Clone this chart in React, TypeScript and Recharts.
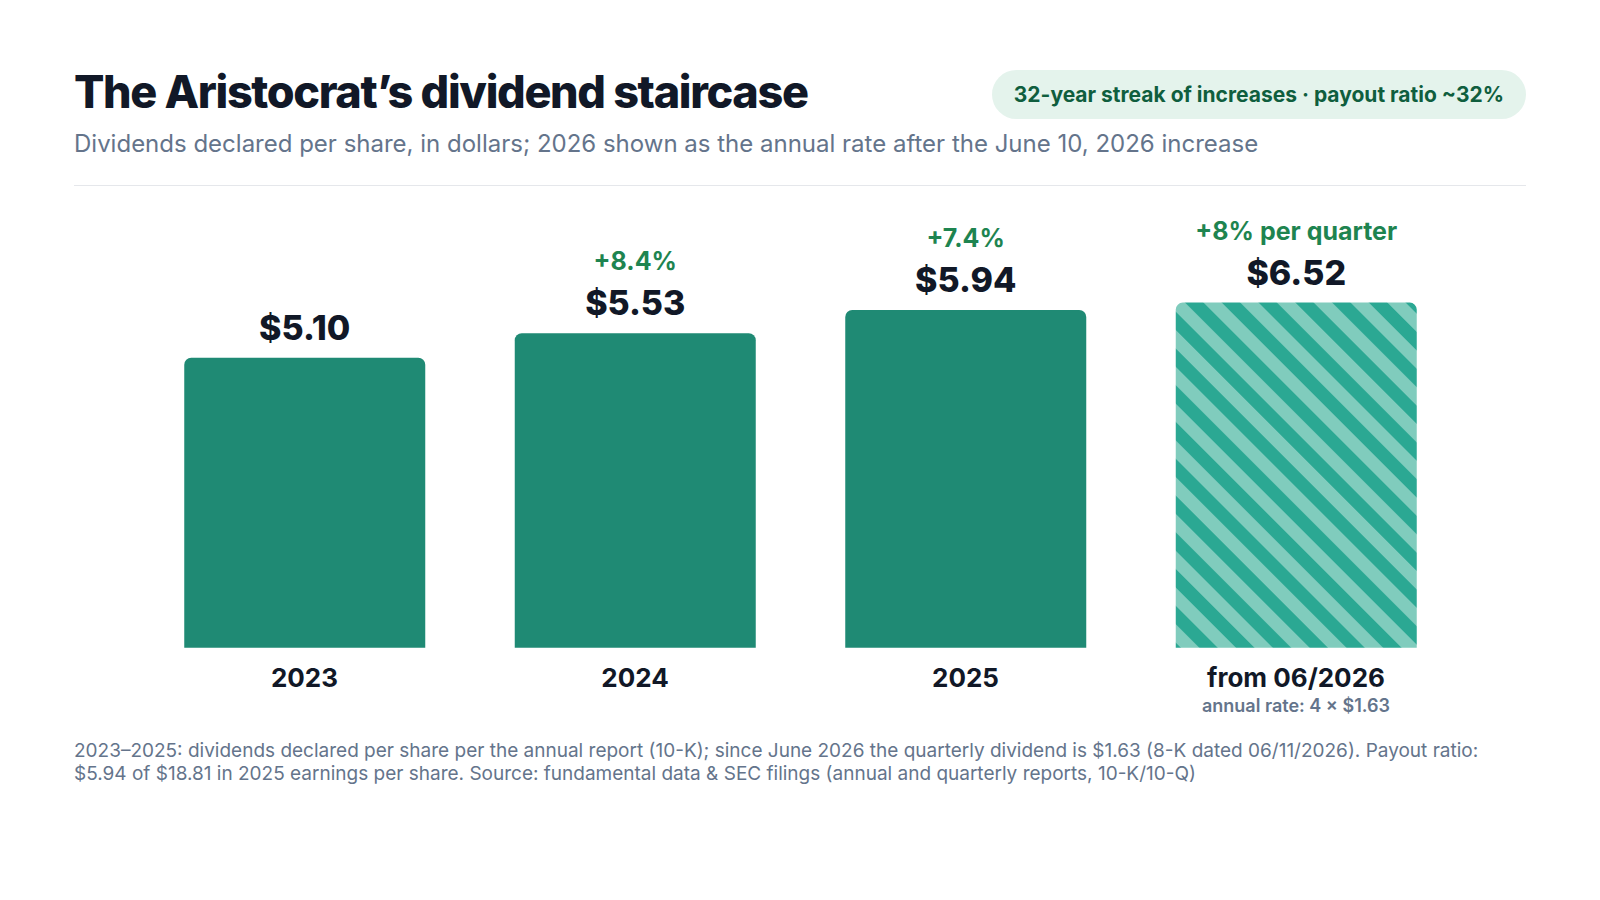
import { BarChart, Bar, XAxis, YAxis, Cell, LabelList } from "recharts";

const categories = ["2023", "2024", "2025", "from 06/2026"];
const subLabels = ["", "", "", "annual rate: 4 × $1.63"];
// bar heights (its 2026 bar sits lower than its $6.52 label)
const dividends = [5.1, 5.53, 5.94, 6.07];
const valueLabels = ["$5.10", "$5.53", "$5.94", "$6.52"];
const changeLabels = ["", "+8.4%", "+7.4%", "+8% per quarter"];
const projected = [false, false, false, true];

const data = categories.map((year, i) => ({
  year,
  value: dividends[i],
  valueLabel: valueLabels[i],
  change: changeLabels[i],
}));

const FONT = "Inter, 'Noto Sans', sans-serif";
const SLATE = "#64748b";
const INK = "#111827";

function ValueLabel(props: any) {
  const { x, y, width, value } = props;
  return (
    <text
      x={x + width / 2}
      y={y - 18}
      textAnchor="middle"
      fontFamily={FONT}
      fontSize={34}
      fontWeight={800}
      fill={INK}
    >
      {value}
    </text>
  );
}

function ChangeLabel(props: any) {
  const { x, y, width, value } = props;
  if (!value) return null;
  return (
    <text
      x={x + width / 2}
      y={y - 63}
      textAnchor="middle"
      fontFamily={FONT}
      fontSize={25}
      fontWeight={700}
      fill="#1e8450"
    >
      {value}
    </text>
  );
}

function YearTick(props: any) {
  const { x, y, payload } = props;
  const sub = subLabels[payload.index];
  return (
    <g>
      <text
        x={x}
        y={y + 39}
        textAnchor="middle"
        fontFamily={FONT}
        fontSize={26}
        fontWeight={700}
        fill={INK}
      >
        {payload.value}
      </text>
      {sub && (
        <text
          x={x}
          y={y + 64}
          textAnchor="middle"
          fontFamily={FONT}
          fontSize={18}
          fontWeight={600}
          fill={SLATE}
        >
          {sub}
        </text>
      )}
    </g>
  );
}

export default function App() {
  return (
    <div
      style={{
        position: "absolute",
        left: 0,
        top: 0,
        width: 1600,
        height: 900,
        background: "#fff",
        fontFamily: FONT,
        overflow: "hidden",
      }}
    >
      <div
        style={{
          position: "absolute",
          left: 74,
          top: 68,
          fontSize: 45,
          lineHeight: "47px",
          fontWeight: 800,
          letterSpacing: "-0.03em",
          color: INK,
          whiteSpace: "nowrap",
        }}
      >
        The Aristocrat’s dividend staircase
      </div>
      <div
        style={{
          position: "absolute",
          right: 74,
          top: 70,
          height: 49,
          padding: "0 22px",
          borderRadius: 25,
          background: "#e4f3ec",
          color: "#0f5e3e",
          fontSize: 21,
          fontWeight: 700,
          display: "flex",
          alignItems: "center",
          whiteSpace: "nowrap",
        }}
      >
        32-year streak of increases · payout ratio ~32%
      </div>
      <div
        style={{
          position: "absolute",
          left: 74,
          top: 132,
          fontSize: 24,
          lineHeight: "24px",
          color: SLATE,
          whiteSpace: "nowrap",
        }}
      >
        Dividends declared per share, in dollars; 2026 shown as the annual rate after the June 10, 2026 increase
      </div>
      <div
        style={{
          position: "absolute",
          left: 74,
          top: 185,
          width: 1452,
          height: 1,
          background: "#e5e7eb",
        }}
      />

      <div style={{ position: "absolute", left: 0, top: 0 }}>
        <BarChart
          width={1600}
          height={900}
          data={data}
          margin={{ top: 249.7, right: 138.75, bottom: 192.3, left: 139.25 }}
        >
          <defs>
            <pattern
              id="hatch"
              width={26}
              height={26}
              patternUnits="userSpaceOnUse"
              patternTransform="rotate(-45)"
            >
              <rect width={26} height={26} fill="#80ccbd" />
              <rect width={13} height={26} fill="#2ba893" />
            </pattern>
          </defs>
          <XAxis
            dataKey="year"
            height={60}
            axisLine={false}
            tickLine={false}
            tickSize={0}
            tickMargin={0}
            interval={0}
            tick={<YearTick />}
          />
          <YAxis hide domain={[0, 7]} />
          <Bar dataKey="value" barSize={241} radius={[7, 7, 0, 0]} isAnimationActive={false}>
            {data.map((d, i) => (
              <Cell key={d.year} fill={projected[i] ? "url(#hatch)" : "#1f8a74"} />
            ))}
            <LabelList dataKey="valueLabel" content={<ValueLabel />} />
            <LabelList dataKey="change" content={<ChangeLabel />} />
          </Bar>
        </BarChart>
      </div>

      <div
        style={{
          position: "absolute",
          left: 74,
          top: 739,
          width: 1460,
          fontSize: 19,
          lineHeight: "23.4px",
          color: SLATE,
        }}
      >
        2023–2025: dividends declared per share per the annual report (10-K); since June 2026 the quarterly
        dividend is $1.63 (8-K dated 06/11/2026). Payout ratio:
        <br />
        $5.94 of $18.81 in 2025 earnings per share. Source: fundamental data &amp; SEC filings (annual and
        quarterly reports, 10-K/10-Q)
      </div>
    </div>
  );
}
